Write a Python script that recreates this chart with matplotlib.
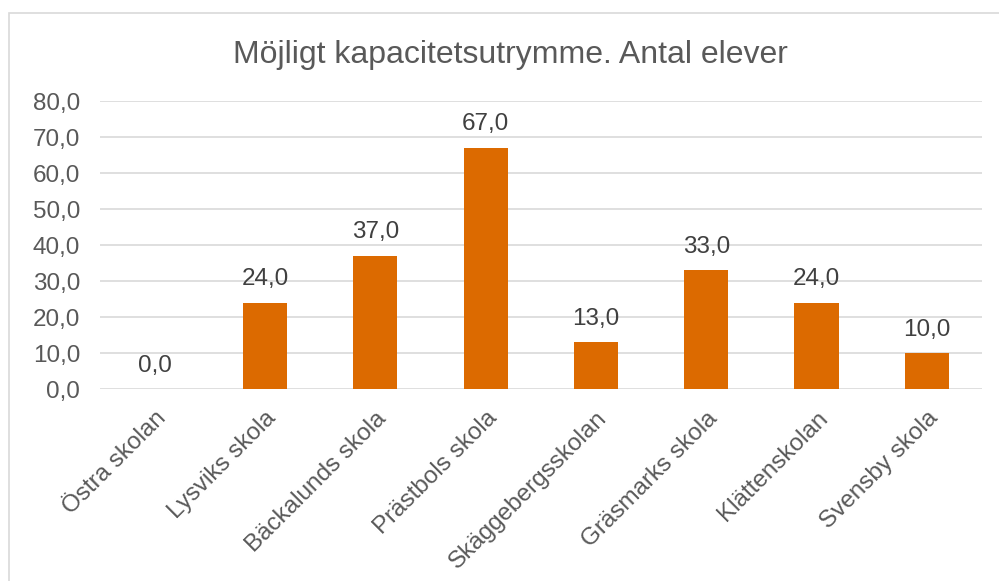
import matplotlib
matplotlib.use("Agg")
import matplotlib.pyplot as plt
from matplotlib.patches import Rectangle

categories = ["Östra skolan", "Lysviks skola", "Bäckalunds skola", "Prästbols skola",
              "Skäggebergsskolan", "Gräsmarks skola", "Klättenskolan", "Svensby skola"]
values = [0.0, 24.0, 37.0, 67.0, 13.0, 33.0, 24.0, 10.0]
yticks = [0, 10, 20, 30, 40, 50, 60, 70, 80]

plt.rcParams['font.family'] = ['Liberation Sans', 'DejaVu Sans']
TXT = '#595959'
BAR = '#DC6A00'
FS = 17.5

fig = plt.figure(figsize=(9.99, 5.81), dpi=100)
fig.patches.append(Rectangle((9/999, -0.1), 1.2, 1 - 13/581 + 0.1, transform=fig.transFigure,
                             fill=False, edgecolor='#D9D9D9', linewidth=1.2))
ax = fig.add_axes([99.5/999, 1 - 389.3/581, (982 - 99.5)/999, (389.3 - 101.3)/581])
x = list(range(len(categories)))
ax.bar(x, values, width=0.4, color=BAR, zorder=3)
ax.set_xlim(-0.5, len(categories) - 0.5)
ax.set_ylim(0, 80)
ax.set_yticks(yticks)
ax.set_yticklabels([f"{v:.1f}".replace('.', ',') for v in yticks], fontsize=FS, color=TXT)
ax.yaxis.grid(True, color='#D9D9D9', linewidth=1.2, zorder=0)
ax.set_axisbelow(True)
for s in ax.spines.values():
    s.set_visible(False)
ax.tick_params(axis='both', length=0)
ax.tick_params(axis='y', pad=14)
ax.set_xticks(x)
ax.set_xticklabels(categories, rotation=45, ha='right', rotation_mode='anchor',
                   fontsize=FS, color=TXT)
ax.tick_params(axis='x', pad=13)
for xi, v in zip(x, values):
    ax.annotate(f"{v:.1f}".replace('.', ','), (xi, v), xytext=(0, 12.7), textcoords='offset points',
                ha='center', va='baseline', fontsize=FS, color='#404040')
fig.text(510/999, 1 - 63/581, "Möjligt kapacitetsutrymme. Antal elever", ha='center', va='baseline',
         fontsize=23, color=TXT)
fig.savefig("out.png", dpi=100)
